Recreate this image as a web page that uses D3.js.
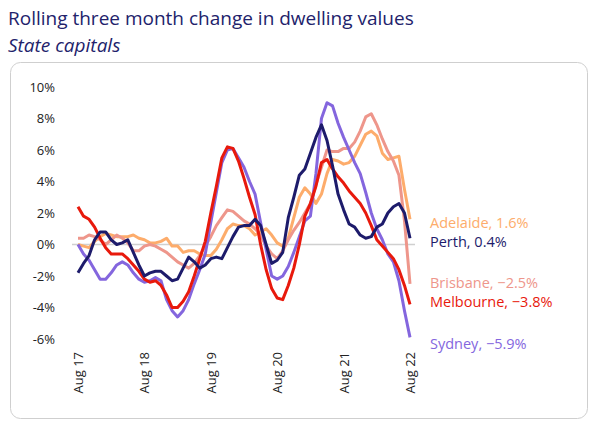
<!DOCTYPE html>
<html><head><meta charset="utf-8">
<script src="https://cdn.jsdelivr.net/npm/d3@7"></script>
<style>body{margin:0;background:#fff;font-family:"Open Sans",sans-serif;}</style>
</head><body>
<script>
// monthly, Aug 2017 .. Aug 2022
var months = d3.range(61);
var tickMonths = [0, 12, 24, 36, 48, 60];
var tickLabels = ['Aug 17', 'Aug 18', 'Aug 19', 'Aug 20', 'Aug 21', 'Aug 22'];
var yTicks = [-6, -4, -2, 0, 2, 4, 6, 8, 10];

var adelaide = [0.0,-0.1,-0.2,0.2,0.5,0.7,0.6,0.5,0.5,0.5,0.6,0.4,0.3,0.1,0.1,0.2,0.4,-0.1,-0.1,-0.5,-0.4,-0.4,-0.6,-0.7,-0.7,-0.3,0.3,1.0,1.3,1.2,1.2,1.0,0.6,0.8,1.0,0.6,0.1,-0.1,0.4,1.7,3.0,3.6,3.2,2.6,3.2,4.5,5.4,5.3,5.1,5.2,5.6,6.3,7.0,7.2,6.9,5.8,5.4,5.5,5.6,3.5,1.6];
var perth = [-1.8,-1.2,-0.7,0.3,0.8,0.8,0.3,0.0,0.1,0.3,-0.5,-1.3,-2.0,-1.8,-1.7,-1.7,-2.0,-2.3,-2.2,-1.5,-0.8,-1.1,-1.5,-1.3,-0.9,-0.8,-0.9,-0.2,0.5,1.1,1.2,1.2,1.6,1.2,0.0,-1.2,-1.0,-0.5,1.7,3.0,4.4,4.8,5.8,6.8,7.6,6.6,5.0,3.2,2.2,1.3,1.1,0.6,0.4,0.5,1.1,1.3,2.0,2.4,2.6,2.0,0.4];
var brisbane = [0.4,0.4,0.6,0.5,0.3,0.0,0.3,0.6,0.4,0.1,-0.4,-0.4,-0.1,0.0,-0.1,-0.3,-0.5,-0.8,-1.1,-1.3,-1.5,-1.2,-0.7,-0.1,0.5,1.2,1.7,2.2,2.1,1.8,1.5,1.3,1.0,0.6,-0.1,-0.6,-0.9,-0.4,0.3,0.9,1.4,2.0,2.6,3.8,4.9,6.0,5.9,5.9,6.1,6.1,6.5,7.2,8.1,8.3,7.6,6.7,5.9,5.3,4.4,1.5,-2.5];
var melbourne = [2.4,1.8,1.6,1.1,0.4,-0.2,-0.6,-0.6,-0.6,-0.9,-1.3,-1.7,-2.2,-2.4,-2.3,-2.6,-3.2,-4.0,-4.0,-3.6,-3.0,-2.0,-0.9,0.2,2.0,3.7,5.5,6.2,6.1,5.3,4.2,3.0,1.9,0.0,-1.6,-2.8,-3.4,-3.5,-2.6,-1.5,0.0,1.8,2.6,3.7,5.2,5.4,4.8,4.3,3.9,3.4,3.0,2.6,2.0,1.2,0.3,-0.1,-0.5,-0.9,-1.6,-2.6,-3.8];
var sydney = [0.0,-0.6,-1.0,-1.6,-2.2,-2.2,-1.8,-1.3,-1.1,-1.3,-1.8,-2.2,-2.4,-2.3,-2.1,-2.3,-3.5,-4.2,-4.6,-4.2,-3.5,-2.5,-1.6,-0.6,1.4,3.3,5.2,6.0,6.1,5.5,4.9,4.0,3.2,1.4,-0.3,-2.0,-2.2,-2.0,-1.4,-0.5,0.5,1.5,1.8,4.5,8.0,9.0,8.8,7.7,6.8,6.0,5.2,4.5,3.3,2.0,1.0,0.3,-0.6,-1.1,-2.3,-4.2,-5.9];

var series = [
  {name: 'Adelaide', vals: adelaide, color: '#fdac6b', label: 'Adelaide, 1.6%', ly: 223},
  {name: 'Brisbane', vals: brisbane, color: '#ee968b', label: 'Brisbane, \u22122.5%', ly: 283},
  {name: 'Sydney', vals: sydney, color: '#8466de', label: 'Sydney, \u22125.9%', ly: 344},
  {name: 'Melbourne', vals: melbourne, color: '#e8190c', label: 'Melbourne, \u22123.8%', ly: 302},
  {name: 'Perth', vals: perth, color: '#1d1b6b', label: 'Perth, 0.4%', ly: 242}
];

var svg = d3.select('body').append('svg').attr('width', 597).attr('height', 430);

svg.append('text').attr('x', 8).attr('y', 25).attr('fill', '#22226b')
  .style('font-size', '19px').text('Rolling three month change in dwelling values');
svg.append('text').attr('x', 8).attr('y', 52).attr('fill', '#22226b')
  .style('font-size', '19px').style('font-style', 'italic').text('State capitals');

svg.append('rect').attr('x', 10.5).attr('y', 62.5).attr('width', 577).attr('height', 356)
  .attr('rx', 10).attr('fill', 'none').attr('stroke', '#cfcfcf');

var x = d3.scaleLinear().domain([0, 60]).range([78, 410]);
var y = d3.scaleLinear().domain([-6, 10]).range([339, 87]);

svg.append('line').attr('x1', 72).attr('x2', 415).attr('y1', y(0)).attr('y2', y(0))
  .attr('stroke', '#d0d0d0').attr('stroke-width', 1.5);

var yAxis = svg.append('g').attr('transform', 'translate(58,0)')
  .call(d3.axisLeft(y).tickValues(yTicks).tickSize(0).tickFormat(function(d) { return d + '%'; }));
yAxis.select('.domain').remove();
yAxis.selectAll('text').attr('fill', '#222').style('font-size', '13px').style('font-family', 'Open Sans');

var xAxis = svg.append('g').attr('transform', 'translate(0,350)')
  .call(d3.axisBottom(x).tickValues(tickMonths).tickSize(0)
    .tickFormat(function(d, i) { return tickLabels[i]; }));
xAxis.select('.domain').remove();
xAxis.selectAll('text').attr('fill', '#222').style('font-size', '13px').style('font-family', 'Open Sans')
  .attr('transform', 'rotate(-90)').attr('text-anchor', 'end').attr('x', -2).attr('y', 0).attr('dy', '0.35em');

var line = d3.line().x(function(d, i) { return x(months[i]); }).y(function(d) { return y(d); });

series.forEach(function(s) {
  svg.append('path').datum(s.vals).attr('d', line).attr('fill', 'none')
    .attr('stroke', s.color).attr('stroke-width', 3).attr('stroke-linejoin', 'round');
  svg.append('text').attr('x', 430).attr('y', s.ly).attr('dy', '0.35em').attr('fill', s.color)
    .style('font-size', '14.5px').text(s.label);
});
</script>
</body></html>
